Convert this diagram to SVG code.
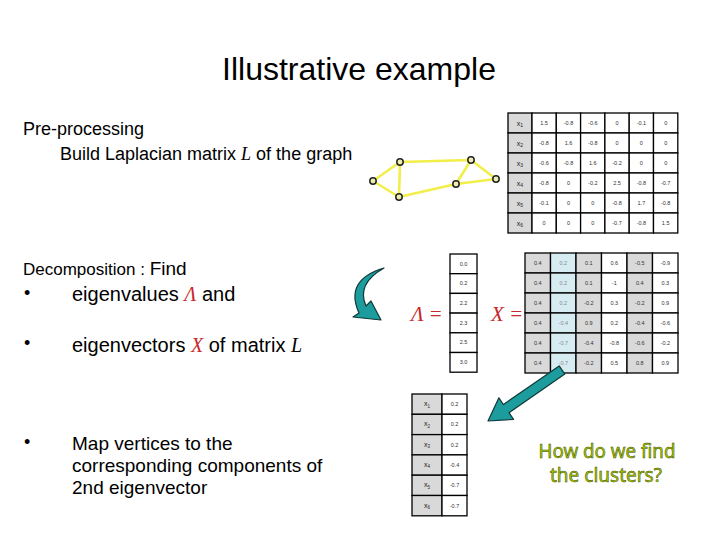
<svg xmlns="http://www.w3.org/2000/svg" width="720" height="540" viewBox="0 0 720 540">
<style>
.t{font-family:"Liberation Sans",Arial,sans-serif;fill:#000}
.m{font-family:"Liberation Serif","Times New Roman",serif;font-style:italic}
.red{fill:#c8282c}
.c{stroke:#000;stroke-width:1.3}
.g{fill:#d9d9d9}
.w{fill:#fff}
.b{fill:#d6ecf0}
.v{font-family:"Liberation Sans",Arial,sans-serif;font-size:5.5px;fill:#333;text-anchor:middle}
.h{font-family:"Liberation Sans",Arial,sans-serif;font-size:7px;fill:#222;text-anchor:middle}
.e{stroke:#f2ee4a;stroke-width:2.6;fill:none;stroke-linecap:round}
.n{fill:#eeeeb0;stroke:#222;stroke-width:1.5}
.ar{fill:#1c9c9c;stroke:#103838;stroke-width:1.2;stroke-linejoin:round}
.q{font-family:"Noto Sans","DejaVu Sans",sans-serif;font-size:19px;fill:#a6c800;stroke:#3c4c00;stroke-width:0.5;text-anchor:middle}
</style>
<rect width="720" height="540" fill="#fff"/>

<g id="title"><text class="t" x="359" y="80" font-size="32" text-anchor="middle">Illustrative example</text></g>

<g id="text-left">
<text class="t" x="23" y="135" font-size="18">Pre-processing</text>
<text class="t" x="60" y="160" font-size="18">Build Laplacian matrix <tspan class="m">L</tspan> of the graph</text>
<text class="t" x="23" y="275" font-size="17">Decomposition : <tspan font-size="19">Find</tspan></text>
<text class="t" x="24" y="299" font-size="18">•</text>
<text class="t" x="72" y="301" font-size="20">eigenvalues <tspan class="m red">Λ</tspan> and</text>
<text class="t" x="24" y="349" font-size="18">•</text>
<text class="t" x="72" y="352" font-size="20">eigenvectors <tspan class="m red">X</tspan> of matrix <tspan class="m">L</tspan></text>
<text class="t" x="24" y="448" font-size="18">•</text>
<text class="t" x="72" y="450" font-size="19">Map vertices to the</text>
<text class="t" x="72" y="472" font-size="19">corresponding components of</text>
<text class="t" x="72" y="494" font-size="19">2nd eigenvector</text>
</g>

<g id="connectors">
<path class="e" d="M373,181 L400,162 M373,181 L399,197 M400,162 L399,197 M400,162 L471,160 M399,197 L456,184 M456,184 L471,160 M456,184 L496,179 M471,160 L496,179"/>
</g>

<g id="graph-nodes">
<circle class="n" cx="373" cy="181" r="3.2"/>
<circle class="n" cx="400" cy="162" r="3.2"/>
<circle class="n" cx="399" cy="197" r="3.2"/>
<circle class="n" cx="456" cy="184" r="3.2"/>
<circle class="n" cx="471" cy="160" r="3.2"/>
<circle class="n" cx="496" cy="179" r="3.2"/>
</g>

<g id="laplacian">
<g class="c">
<rect class="g" x="508" y="113" width="24" height="20"/><rect class="g" x="508" y="133" width="24" height="20"/><rect class="g" x="508" y="153" width="24" height="20"/><rect class="g" x="508" y="173" width="24" height="20"/><rect class="g" x="508" y="193" width="24" height="20"/><rect class="g" x="508" y="213" width="24" height="20"/>
</g>
<g class="c w">
<rect x="532" y="113" width="24.3" height="20"/><rect x="556.3" y="113" width="24.3" height="20"/><rect x="580.6" y="113" width="24.3" height="20"/><rect x="604.9" y="113" width="24.3" height="20"/><rect x="629.2" y="113" width="24.3" height="20"/><rect x="653.5" y="113" width="24.3" height="20"/>
<rect x="532" y="133" width="24.3" height="20"/><rect x="556.3" y="133" width="24.3" height="20"/><rect x="580.6" y="133" width="24.3" height="20"/><rect x="604.9" y="133" width="24.3" height="20"/><rect x="629.2" y="133" width="24.3" height="20"/><rect x="653.5" y="133" width="24.3" height="20"/>
<rect x="532" y="153" width="24.3" height="20"/><rect x="556.3" y="153" width="24.3" height="20"/><rect x="580.6" y="153" width="24.3" height="20"/><rect x="604.9" y="153" width="24.3" height="20"/><rect x="629.2" y="153" width="24.3" height="20"/><rect x="653.5" y="153" width="24.3" height="20"/>
<rect x="532" y="173" width="24.3" height="20"/><rect x="556.3" y="173" width="24.3" height="20"/><rect x="580.6" y="173" width="24.3" height="20"/><rect x="604.9" y="173" width="24.3" height="20"/><rect x="629.2" y="173" width="24.3" height="20"/><rect x="653.5" y="173" width="24.3" height="20"/>
<rect x="532" y="193" width="24.3" height="20"/><rect x="556.3" y="193" width="24.3" height="20"/><rect x="580.6" y="193" width="24.3" height="20"/><rect x="604.9" y="193" width="24.3" height="20"/><rect x="629.2" y="193" width="24.3" height="20"/><rect x="653.5" y="193" width="24.3" height="20"/>
<rect x="532" y="213" width="24.3" height="20"/><rect x="556.3" y="213" width="24.3" height="20"/><rect x="580.6" y="213" width="24.3" height="20"/><rect x="604.9" y="213" width="24.3" height="20"/><rect x="629.2" y="213" width="24.3" height="20"/><rect x="653.5" y="213" width="24.3" height="20"/>
</g>
<text class="h" x="520" y="125.5">x<tspan font-size="5" dy="1.5">1</tspan></text>
<text class="h" x="520" y="145.5">x<tspan font-size="5" dy="1.5">2</tspan></text>
<text class="h" x="520" y="165.5">x<tspan font-size="5" dy="1.5">3</tspan></text>
<text class="h" x="520" y="185.5">x<tspan font-size="5" dy="1.5">4</tspan></text>
<text class="h" x="520" y="205.5">x<tspan font-size="5" dy="1.5">5</tspan></text>
<text class="h" x="520" y="225.5">x<tspan font-size="5" dy="1.5">6</tspan></text>
<g class="v">
<text x="544" y="125">1.5</text><text x="568.5" y="125">-0.8</text><text x="592.8" y="125">-0.6</text><text x="617" y="125">0</text><text x="641.4" y="125">-0.1</text><text x="665.7" y="125">0</text>
<text x="544" y="145">-0.8</text><text x="568.5" y="145">1.6</text><text x="592.8" y="145">-0.8</text><text x="617" y="145">0</text><text x="641.4" y="145">0</text><text x="665.7" y="145">0</text>
<text x="544" y="165">-0.6</text><text x="568.5" y="165">-0.8</text><text x="592.8" y="165">1.6</text><text x="617" y="165">-0.2</text><text x="641.4" y="165">0</text><text x="665.7" y="165">0</text>
<text x="544" y="185">-0.8</text><text x="568.5" y="185">0</text><text x="592.8" y="185">-0.2</text><text x="617" y="185">2.5</text><text x="641.4" y="185">-0.8</text><text x="665.7" y="185">-0.7</text>
<text x="544" y="205">-0.1</text><text x="568.5" y="205">0</text><text x="592.8" y="205">0</text><text x="617" y="205">-0.8</text><text x="641.4" y="205">1.7</text><text x="665.7" y="205">-0.8</text>
<text x="544" y="225">0</text><text x="568.5" y="225">0</text><text x="592.8" y="225">0</text><text x="617" y="225">-0.7</text><text x="641.4" y="225">-0.8</text><text x="665.7" y="225">1.5</text>
</g>
</g>

<g id="curved-arrow">
<path class="ar" d="M384,268 Q344,280 359,313 L353,317 L381,320 L371,301 L366,306 Q356,284 384,268 Z"/>
</g>

<g id="lambda-label"><text class="m red" x="411" y="321" font-size="21">Λ =</text></g>
<g id="x-label"><text class="m red" x="491" y="321" font-size="21">X =</text></g>

<g id="eigenvalues">
<g class="c w">
<rect x="450" y="254" width="27" height="19.7"/><rect x="450" y="273.7" width="27" height="19.7"/><rect x="450" y="293.4" width="27" height="19.7"/><rect x="450" y="313.1" width="27" height="19.7"/><rect x="450" y="332.8" width="27" height="19.7"/><rect x="450" y="352.5" width="27" height="19.7"/>
</g>
<g class="v">
<text x="463.5" y="265.5">0.0</text><text x="463.5" y="285.2">0.2</text><text x="463.5" y="304.9">2.2</text><text x="463.5" y="324.6">2.3</text><text x="463.5" y="344.3">2.5</text><text x="463.5" y="364">3.0</text>
</g>
</g>

<g id="eigenvectors">
<g class="c">
<rect class="g" x="525" y="253" width="25.5" height="20"/><rect class="b" x="550.5" y="253" width="25.5" height="20"/><rect class="g" x="576" y="253" width="25.5" height="20"/><rect class="w" x="601.5" y="253" width="25.5" height="20"/><rect class="g" x="627" y="253" width="25.5" height="20"/><rect class="w" x="652.5" y="253" width="25.5" height="20"/>
<rect class="g" x="525" y="273" width="25.5" height="20"/><rect class="b" x="550.5" y="273" width="25.5" height="20"/><rect class="g" x="576" y="273" width="25.5" height="20"/><rect class="w" x="601.5" y="273" width="25.5" height="20"/><rect class="g" x="627" y="273" width="25.5" height="20"/><rect class="w" x="652.5" y="273" width="25.5" height="20"/>
<rect class="g" x="525" y="293" width="25.5" height="20"/><rect class="b" x="550.5" y="293" width="25.5" height="20"/><rect class="g" x="576" y="293" width="25.5" height="20"/><rect class="w" x="601.5" y="293" width="25.5" height="20"/><rect class="g" x="627" y="293" width="25.5" height="20"/><rect class="w" x="652.5" y="293" width="25.5" height="20"/>
<rect class="g" x="525" y="313" width="25.5" height="20"/><rect class="b" x="550.5" y="313" width="25.5" height="20"/><rect class="g" x="576" y="313" width="25.5" height="20"/><rect class="w" x="601.5" y="313" width="25.5" height="20"/><rect class="g" x="627" y="313" width="25.5" height="20"/><rect class="w" x="652.5" y="313" width="25.5" height="20"/>
<rect class="g" x="525" y="333" width="25.5" height="20"/><rect class="b" x="550.5" y="333" width="25.5" height="20"/><rect class="g" x="576" y="333" width="25.5" height="20"/><rect class="w" x="601.5" y="333" width="25.5" height="20"/><rect class="g" x="627" y="333" width="25.5" height="20"/><rect class="w" x="652.5" y="333" width="25.5" height="20"/>
<rect class="g" x="525" y="353" width="25.5" height="20"/><rect class="b" x="550.5" y="353" width="25.5" height="20"/><rect class="g" x="576" y="353" width="25.5" height="20"/><rect class="w" x="601.5" y="353" width="25.5" height="20"/><rect class="g" x="627" y="353" width="25.5" height="20"/><rect class="w" x="652.5" y="353" width="25.5" height="20"/>
</g>
<g class="v">
<text x="537.8" y="265">0.4</text><text x="563.3" y="265" fill="#889">0.2</text><text x="588.8" y="265">0.1</text><text x="614.3" y="265">0.6</text><text x="639.8" y="265">-0.5</text><text x="665.3" y="265">-0.9</text>
<text x="537.8" y="285">0.4</text><text x="563.3" y="285" fill="#889">0.2</text><text x="588.8" y="285">0.1</text><text x="614.3" y="285">-1</text><text x="639.8" y="285">0.4</text><text x="665.3" y="285">0.3</text>
<text x="537.8" y="305">0.4</text><text x="563.3" y="305" fill="#889">0.2</text><text x="588.8" y="305">-0.2</text><text x="614.3" y="305">0.3</text><text x="639.8" y="305">-0.2</text><text x="665.3" y="305">0.9</text>
<text x="537.8" y="325">0.4</text><text x="563.3" y="325" fill="#889">-0.4</text><text x="588.8" y="325">0.9</text><text x="614.3" y="325">0.2</text><text x="639.8" y="325">-0.4</text><text x="665.3" y="325">-0.6</text>
<text x="537.8" y="345">0.4</text><text x="563.3" y="345" fill="#889">-0.7</text><text x="588.8" y="345">-0.4</text><text x="614.3" y="345">-0.8</text><text x="639.8" y="345">-0.6</text><text x="665.3" y="345">-0.2</text>
<text x="537.8" y="365">0.4</text><text x="563.3" y="365" fill="#889">-0.7</text><text x="588.8" y="365">-0.2</text><text x="614.3" y="365">0.5</text><text x="639.8" y="365">0.8</text><text x="665.3" y="365">0.9</text>
</g>
</g>

<g id="straight-arrow">
<path class="ar" d="M559.2,365.9 L503.4,404.5 L498.9,397.8 L488,421 L513.5,419.4 L509,412.7 L564.8,374.1 Z"/>
</g>

<g id="vector">
<g class="c">
<rect class="g" x="412" y="394" width="30" height="20.3"/><rect class="w" x="442" y="394" width="25" height="20.3"/>
<rect class="g" x="412" y="414.3" width="30" height="20.3"/><rect class="w" x="442" y="414.3" width="25" height="20.3"/>
<rect class="g" x="412" y="434.6" width="30" height="20.3"/><rect class="w" x="442" y="434.6" width="25" height="20.3"/>
<rect class="g" x="412" y="454.9" width="30" height="20.3"/><rect class="w" x="442" y="454.9" width="25" height="20.3"/>
<rect class="g" x="412" y="475.2" width="30" height="20.3"/><rect class="w" x="442" y="475.2" width="25" height="20.3"/>
<rect class="g" x="412" y="495.5" width="30" height="20.3"/><rect class="w" x="442" y="495.5" width="25" height="20.3"/>
</g>
<text class="h" x="427" y="406" font-size="6">x<tspan font-size="4.5" dy="1.5">1</tspan></text>
<text class="h" x="427" y="426.3" font-size="6">x<tspan font-size="4.5" dy="1.5">2</tspan></text>
<text class="h" x="427" y="446.6" font-size="6">x<tspan font-size="4.5" dy="1.5">3</tspan></text>
<text class="h" x="427" y="466.9" font-size="6">x<tspan font-size="4.5" dy="1.5">4</tspan></text>
<text class="h" x="427" y="487.2" font-size="6">x<tspan font-size="4.5" dy="1.5">5</tspan></text>
<text class="h" x="427" y="507.5" font-size="6">x<tspan font-size="4.5" dy="1.5">6</tspan></text>
<g class="v">
<text x="454.5" y="406">0.2</text><text x="454.5" y="426.3">0.2</text><text x="454.5" y="446.6">0.2</text><text x="454.5" y="466.9">-0.4</text><text x="454.5" y="487.2">-0.7</text><text x="454.5" y="507.5">-0.7</text>
</g>
</g>

<g id="question">
<text class="q" x="607" y="458" textLength="137" lengthAdjust="spacingAndGlyphs">How do we find</text>
<text class="q" x="606" y="482" textLength="112" lengthAdjust="spacingAndGlyphs">the clusters?</text>
</g>
</svg>
